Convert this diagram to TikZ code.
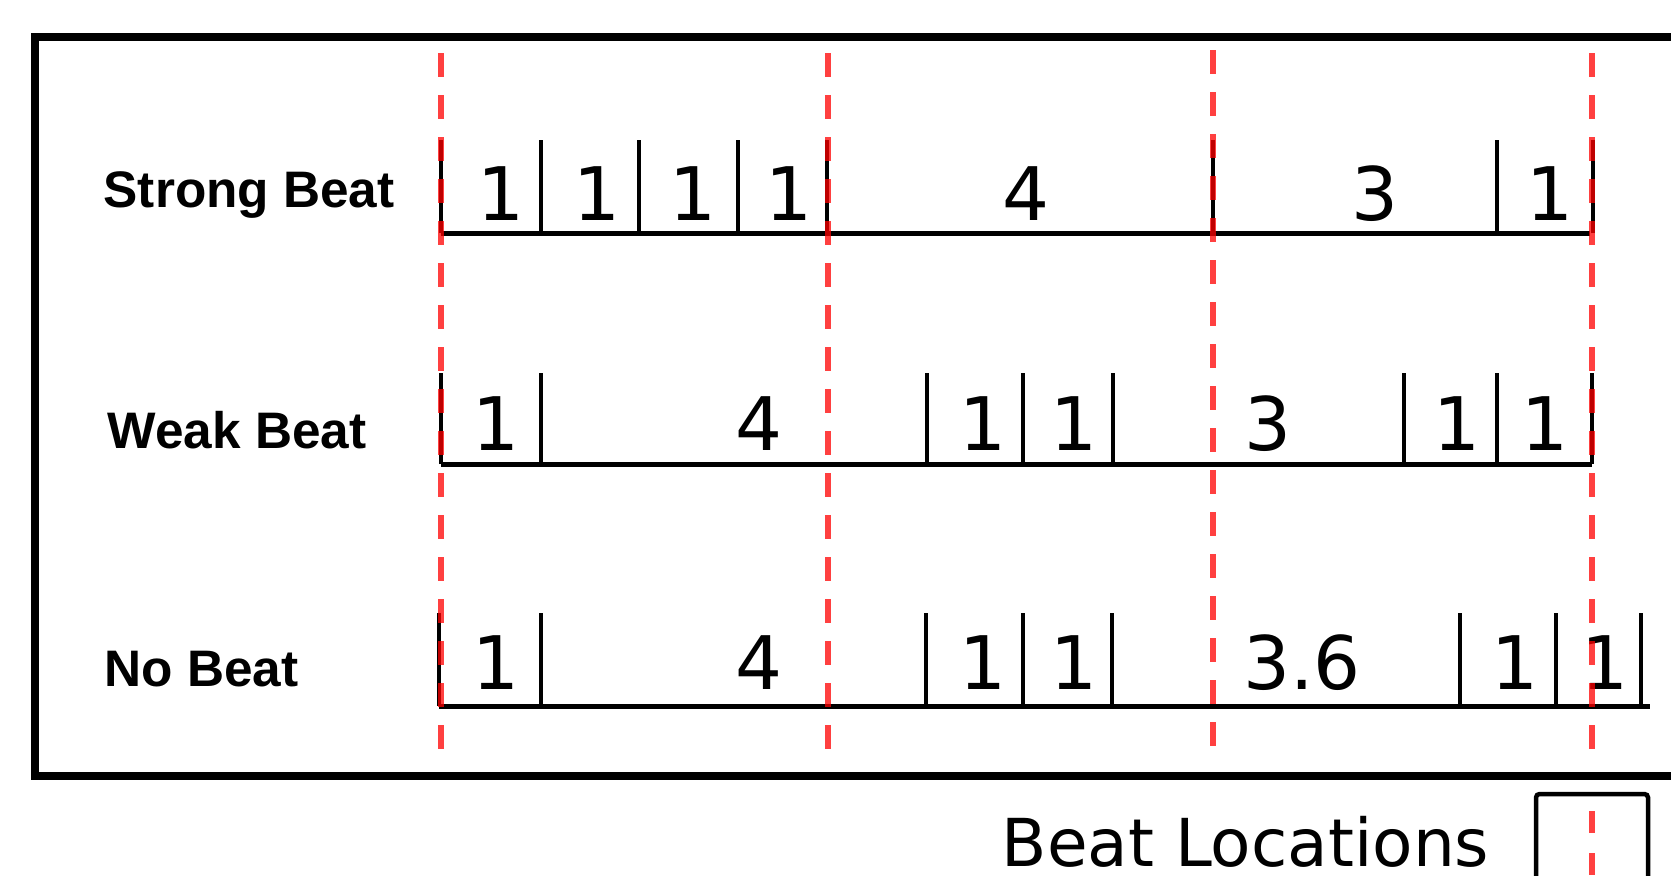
\documentclass[tikz,border=0pt]{standalone}
\usepackage{fontspec}
\setmainfont{DejaVu Sans}
\newfontfamily\labelfont{Liberation Sans}
\usetikzlibrary{positioning}

\begin{document}
\begin{tikzpicture}[
    x=0.01cm, y=-0.01cm,
    frame/.style={draw, line width=0.08cm},
    bar/.style={draw, line width=0.05cm},
    tickmark/.style={draw, line width=0.04cm},
    beatline/.style={draw=red, opacity=0.75, line width=0.06cm, dash pattern=on 0.24cm off 0.18cm},
    digit/.style={anchor=base, inner sep=0pt, font=\fontsize{21}{21}\selectfont},
    rowlabel/.style={anchor=base west, inner sep=0pt, font=\labelfont\bfseries\fontsize{14.6}{14.6}\selectfont}
]
    \useasboundingbox (0,0) rectangle (1671,875);
    \clip (0,0) rectangle (1671,875);

    % outer frame
    \draw[frame] (35,37) rectangle (1720,776);

    % row labels
    \node[rowlabel] (strong) at (103,207) {Strong Beat};
    \node[rowlabel] (weak)   at (107,448) {Weak Beat};
    \node[rowlabel] (nobeat) at (104,686) {No Beat};

    % strong beat row
    \draw[bar] (441,233) -- (1590,233);
    \foreach \x in {441,541,639,738,827,1213,1497,1593}
        \draw[tickmark] (\x,233) -- (\x,140);
    \foreach \x/\t in {501/1,597/1,693/1,789/1,1026/4,1375/3,1550/1}
        \node[digit] at (\x,220) {\t};

    % weak beat row
    \draw[bar] (441,464) -- (1592,464);
    \foreach \x in {441,541,927,1023,1113,1404,1497,1592}
        \draw[tickmark] (\x,464) -- (\x,373);
    \foreach \x/\t in {496/1,759/4,983/1,1074/1,1268/3,1457/1,1545/1}
        \node[digit] at (\x,450) {\t};

    % no beat row
    \draw[bar] (439,706) -- (1650,706);
    \foreach \x in {439,541,926,1023,1112,1460,1556,1641}
        \draw[tickmark] (\x,706) -- (\x,613);
    \foreach \x/\t in {496/1,759/4,983/1,1074/1,1302/3.6,1515/1,1605/1}
        \node[digit] at (\x,689) {\t};

    % beat locations
    \foreach \x/\y in {441/53,828/53,1213/50,1592/53}
        \draw[beatline] (\x,\y) -- (\x,749);

    % legend
    \node[anchor=base east, inner sep=0pt, text depth=0pt, font=\fontsize{18.8}{18.8}\selectfont] (legend) at (1490,866) {Beat Locations};
    \draw[line width=0.045cm, rounded corners=1pt] (1536,920) |- (1648,794) -- (1648,920);
    \draw[beatline, dash pattern=on 0.22cm off 0.2cm] (1592,811) -- (1592,900);
\end{tikzpicture}
\end{document}
